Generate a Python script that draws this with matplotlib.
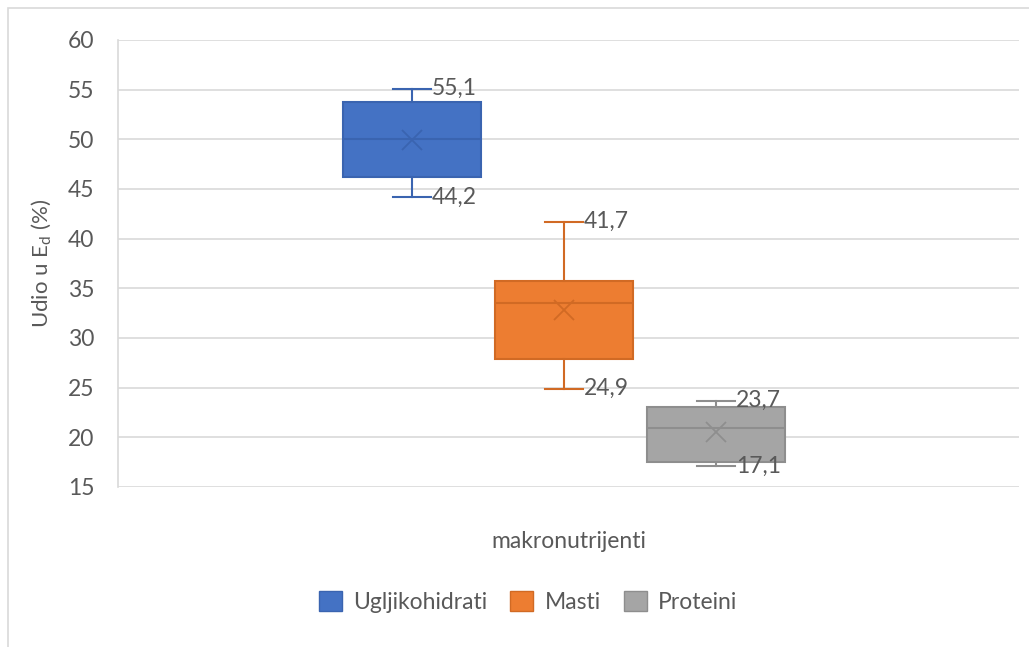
import numpy as np
import matplotlib
matplotlib.use('Agg')
import matplotlib.pyplot as plt
from matplotlib.patches import Rectangle, Patch

# box-and-whisker values
names = ['Ugljikohidrati', 'Masti', 'Proteini']
whislo = [44.2, 24.9, 17.1]
q1 = [46.2, 27.9, 17.5]
med = [50.0, 33.5, 20.9]
q3 = [53.8, 35.7, 23.1]
whishi = [55.1, 41.7, 23.7]
mean = [49.9, 32.8, 20.5]

fills = ['#4472C4', '#ED7D31', '#A5A5A5']
edges = ['#3A64B0', '#D16A24', '#8E8E8E']
txt = '#595959'

plt.rcParams['font.family'] = ['Lato', 'DejaVu Sans']

fig = plt.figure(figsize=(10.29, 6.47), dpi=100)
ax = fig.add_axes([0.1147, 0.2473, 0.8756, 0.6909])

# outer chart border
fig.patches.append(Rectangle((8 / 1029, -0.01), 1.02, 1 - 8 / 647 + 0.01,
                             transform=fig.transFigure, fill=False,
                             edgecolor='#D9D9D9', lw=1.2))

pos = np.arange(len(names)) - 1.0
stats = []
for i, n in enumerate(names):
    stats.append(dict(label=n, whislo=whislo[i], q1=q1[i], med=med[i],
                      q3=q3[i], whishi=whishi[i], mean=mean[i], fliers=[]))

for i in range(len(names)):
    ax.bxp([stats[i]], positions=[pos[i]], widths=0.91, patch_artist=True,
           showmeans=True, capwidths=0.25,
           boxprops=dict(facecolor=fills[i], edgecolor=edges[i], lw=1.5),
           medianprops=dict(color=edges[i], lw=1.5),
           whiskerprops=dict(color=edges[i], lw=1.5),
           capprops=dict(color=edges[i], lw=1.5),
           meanprops=dict(marker='x', markeredgecolor=edges[i],
                          markersize=14, markeredgewidth=1.3),
           zorder=3)
    ax.text(pos[i] + 0.13, whishi[i], ('%.1f' % whishi[i]).replace('.', ','),
            va='center', ha='left', fontsize=16.5, color=txt, zorder=4)
    ax.text(pos[i] + 0.13, whislo[i], ('%.1f' % whislo[i]).replace('.', ','),
            va='center', ha='left', fontsize=16.5, color=txt, zorder=4)

ax.set_xlim(-2.93, 2.99)
ax.set_ylim(15, 60)
ax.set_yticks(np.arange(15, 61, 5))
ax.set_xticks([])
ax.grid(axis='y', color='#D9D9D9', lw=1.2, zorder=0)
for s in ['top', 'right', 'bottom']:
    ax.spines[s].set_visible(False)
ax.spines['left'].set_color('#D9D9D9')
ax.spines['left'].set_linewidth(1.2)
ax.tick_params(axis='y', length=0, pad=17, labelsize=16.5, labelcolor=txt)

ax.set_ylabel('Udio u E$_{\\mathregular{d}}$ (%)', fontsize=16, color=txt,
              labelpad=10)
ax.set_xlabel('makronutrijenti', fontsize=16.5, color=txt, labelpad=32)

handles = [Patch(facecolor=fills[i], edgecolor=edges[i], label=names[i])
           for i in range(len(names))]
fig.legend(handles=handles, loc='center', bbox_to_anchor=(528 / 1029, 1 - 602 / 647),
           ncol=3, frameon=False, fontsize=16.5, labelcolor=txt,
           handlelength=1.0, handleheight=1.0, handletextpad=0.5,
           columnspacing=1.0)

fig.savefig('out.png', dpi=100, facecolor='white')
